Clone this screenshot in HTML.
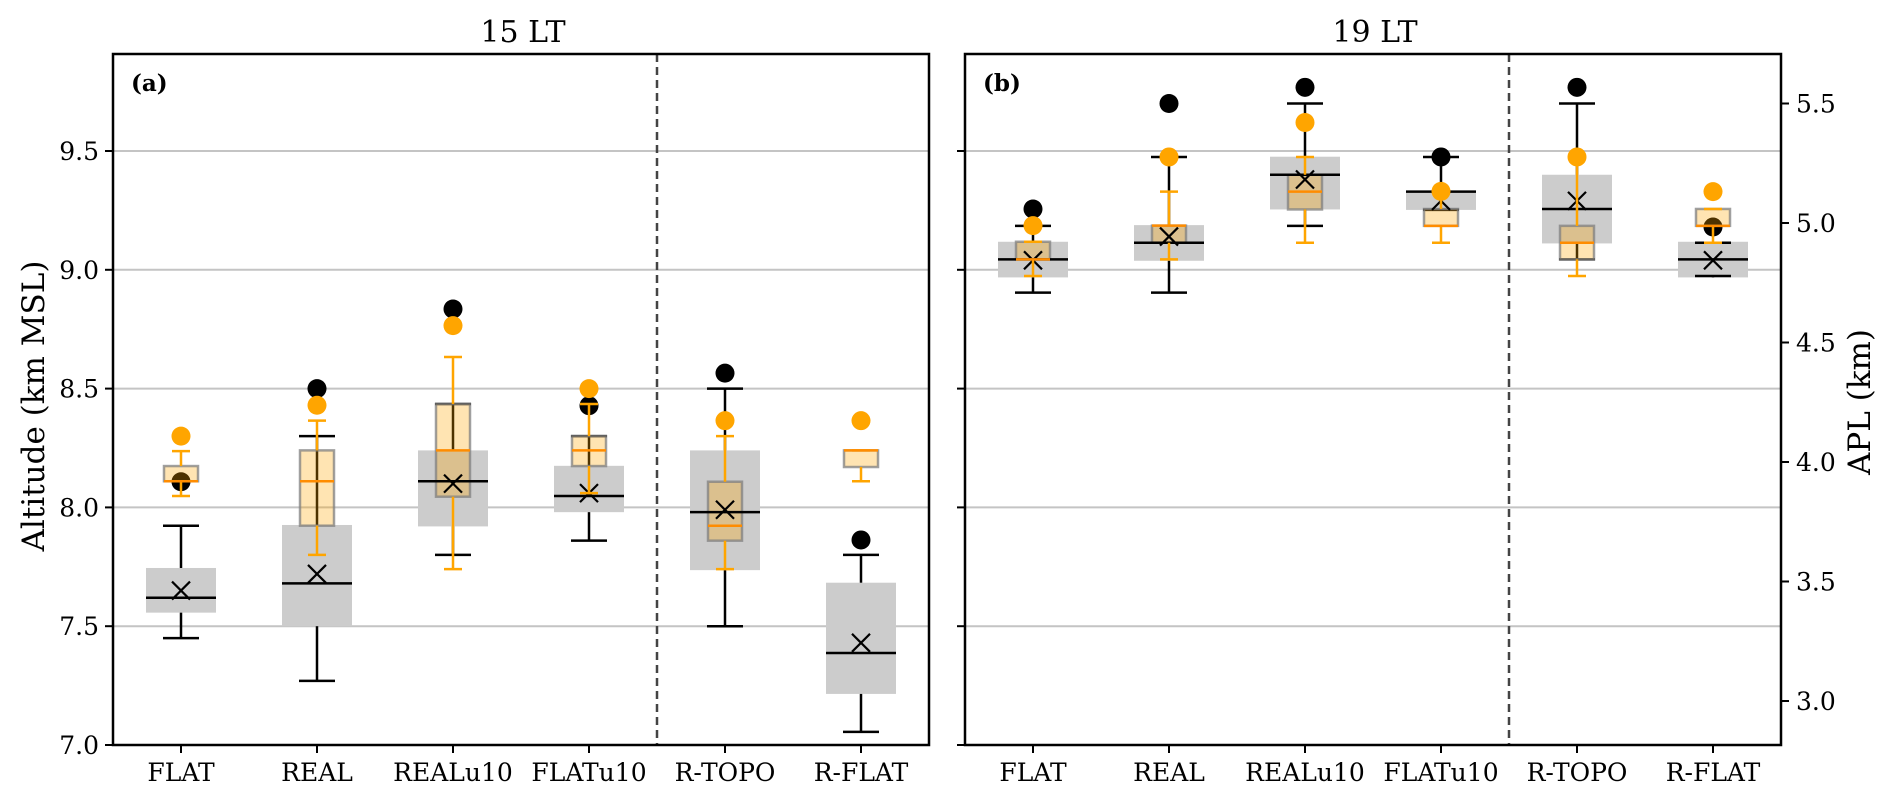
<!DOCTYPE html>
<html><head><meta charset="utf-8"><style>
html,body{margin:0;padding:0;background:#fff;}
svg text{font-family:"DejaVu Serif","Liberation Serif",serif;fill:#000;}
</style></head><body>
<svg id="chart" xmlns="http://www.w3.org/2000/svg" width="1892" height="800" viewBox="0 0 1892 800"></svg>
<script>
const categories = ["FLAT","REAL","REALu10","FLATu10","R-TOPO","R-FLAT"];
const yTicks = [7.0,7.5,8.0,8.5,9.0,9.5];
const aplTicks = [3.0,3.5,4.0,4.5,5.0,5.5];
const panelTitles = ["15 LT","19 LT"];
const panelTags = ["(a)","(b)"];
// gray (black) series per panel: [q1,median,q3,whiskLow,whiskHigh,mean,outlier]
const grayA = [
 [7.557,7.62,7.745,7.45,7.923,7.65,8.108],
 [7.50,7.68,7.926,7.27,8.30,7.72,8.50],
 [7.92,8.11,8.24,7.80,8.435,8.10,8.835],
 [7.98,8.048,8.175,7.86,8.30,8.06,8.428],
 [7.736,7.98,8.24,7.50,8.50,7.99,8.565],
 [7.215,7.387,7.683,7.055,7.80,7.43,7.863]];
const orangeA = [
 [8.11,8.11,8.174,8.048,8.237,8.30],
 [7.923,8.11,8.24,7.80,8.365,8.43],
 [8.045,8.24,8.435,7.74,8.633,8.765],
 [8.174,8.24,8.30,8.06,8.435,8.50],
 [7.86,7.923,8.108,7.74,8.30,8.365],
 [8.17,8.24,8.24,8.11,8.24,8.365]];
const grayB = [
 [8.968,9.044,9.118,8.904,9.185,9.04,9.256],
 [9.038,9.114,9.188,8.904,9.475,9.14,9.70],
 [9.254,9.40,9.476,9.185,9.70,9.38,9.768],
 [9.252,9.329,9.329,9.252,9.475,9.29,9.475],
 [9.111,9.256,9.40,9.044,9.70,9.29,9.768],
 [8.968,9.044,9.118,8.974,9.114,9.04,9.18]];
const orangeB = [
 [9.044,9.044,9.118,8.974,9.118,9.186],
 [9.114,9.186,9.186,9.044,9.329,9.475],
 [9.254,9.329,9.40,9.114,9.475,9.62],
 [9.185,9.185,9.256,9.114,9.33,9.33],
 [9.044,9.114,9.185,8.974,9.47,9.475],
 [9.185,9.185,9.256,9.114,9.256,9.329]];

const svg = document.getElementById('chart');
const NS = "http://www.w3.org/2000/svg";
function mk(tag, attrs, parent){const e=document.createElementNS(NS,tag);for(const k in attrs)e.setAttribute(k,attrs[k]);(parent||svg).appendChild(e);return e;}
const TOP=54, BOT=745;
function y(v){return 745-(v-7)*237.6;}
function yApl(v){return 223-(v-5)*239;}
const panels=[{x0:113,x1:929,gray:grayA,orange:orangeA},{x0:965,x1:1781,gray:grayB,orange:orangeB}];

panels.forEach((p,pi)=>{
  const g=mk('g',{});
  
  
  const xc=i=>p.x0+68+136*i;
  yTicks.forEach(t=>{
    if(t<=7.0) return;
    const l=mk('line',{x1:p.x0,x2:p.x1,y1:y(t),y2:y(t),stroke:'#c4c4c4','stroke-width':2},g);
    
    
  });
  const d=mk('line',{x1:xc(3.5),x2:xc(3.5),y1:TOP,y2:BOT,stroke:'#444','stroke-width':2.5,'stroke-dasharray':'8,5'},g);
  
  
  categories.forEach((c,i)=>{
    const cx=xc(i), G=p.gray[i], O=p.orange[i];
    const bg=mk('g',{},g);
    
    
    mk('rect',{x:cx-35,y:y(G[2]),width:70,height:Math.max(y(G[0])-y(G[2]),1),fill:'#cccccc'},bg);
    mk('line',{x1:cx,x2:cx,y1:y(G[2]),y2:y(G[4]),stroke:'#000','stroke-width':2.5},bg);
    mk('line',{x1:cx,x2:cx,y1:y(G[0]),y2:y(G[3]),stroke:'#000','stroke-width':2.5},bg);
    mk('line',{x1:cx-18,x2:cx+18,y1:y(G[4]),y2:y(G[4]),stroke:'#000','stroke-width':2.5},bg);
    mk('line',{x1:cx-18,x2:cx+18,y1:y(G[3]),y2:y(G[3]),stroke:'#000','stroke-width':2.5},bg);
    mk('circle',{cx:cx,cy:y(G[6]),r:9.5,fill:'#000'},bg);
    mk('rect',{x:cx-17,y:y(O[2]),width:34,height:Math.max(y(O[0])-y(O[2]),1),fill:'rgba(255,165,0,0.3)',stroke:'rgba(128,128,128,0.75)','stroke-width':2.5},bg);
    mk('line',{x1:cx-35,x2:cx+35,y1:y(G[1]),y2:y(G[1]),stroke:'#000','stroke-width':2.5},bg);
    const my=y(G[5]);
    mk('path',{d:`M${cx-9} ${my-9}L${cx+9} ${my+9}M${cx+9} ${my-9}L${cx-9} ${my+9}`,stroke:'#000','stroke-width':2.2,fill:'none'},bg);
    mk('line',{x1:cx,x2:cx,y1:y(O[2]),y2:y(O[4]),stroke:'#ffa500','stroke-width':2.5},bg);
    mk('line',{x1:cx,x2:cx,y1:y(O[0]),y2:y(O[3]),stroke:'#ffa500','stroke-width':2.5},bg);
    mk('line',{x1:cx-9,x2:cx+9,y1:y(O[4]),y2:y(O[4]),stroke:'#ffa500','stroke-width':2.5},bg);
    mk('line',{x1:cx-9,x2:cx+9,y1:y(O[3]),y2:y(O[3]),stroke:'#ffa500','stroke-width':2.5},bg);
    mk('line',{x1:cx-17,x2:cx+17,y1:y(O[1]),y2:y(O[1]),stroke:'#ff8c00','stroke-width':2.5},bg);
    mk('circle',{cx:cx,cy:y(O[5]),r:9.5,fill:'#ffa500'},bg);
    mk('line',{x1:cx,x2:cx,y1:BOT,y2:BOT+8,stroke:'#000','stroke-width':2},g);
    const t=mk('text',{x:cx,y:781,'font-size':25,'text-anchor':'middle'},g);
    t.textContent=c;
    
    
  });
  yTicks.forEach(tv=>{
    mk('line',{x1:p.x0-8,x2:p.x0,y1:y(tv),y2:y(tv),stroke:'#000','stroke-width':2},g);
    if(pi===0){
      const t=mk('text',{x:p.x0-14,y:y(tv)+9,'font-size':25,'text-anchor':'end'},g);
      t.textContent=tv.toFixed(1);
      
      
    }
  });
  const fr=mk('rect',{x:p.x0,y:TOP,width:p.x1-p.x0,height:BOT-TOP,fill:'none',stroke:'#000','stroke-width':2.5},g);
  
  
  const tt=mk('text',{x:(p.x0+p.x1)/2+2,y:42,'font-size':30,'text-anchor':'middle'},g);
  tt.textContent=panelTitles[pi];
  
  
  const tg=mk('text',{x:p.x0+18,y:91,'font-size':23,'font-weight':'bold'},g);
  tg.textContent=panelTags[pi];
  
  
});
aplTicks.forEach(tv=>{
  mk('line',{x1:1781,x2:1789,y1:yApl(tv),y2:yApl(tv),stroke:'#000','stroke-width':2});
  const t=mk('text',{x:1796,y:yApl(tv)+9,'font-size':25});
  t.textContent=tv.toFixed(1);
  
  
});
const yl=mk('text',{x:0,y:0,'font-size':31,'text-anchor':'middle',transform:'translate(44,406) rotate(-90)'});
yl.textContent='Altitude (km MSL)';


const yr=mk('text',{x:0,y:0,'font-size':31,'text-anchor':'middle',transform:'translate(1870,402) rotate(-90)'});
yr.textContent='APL (km)';


</script>
</body></html>
